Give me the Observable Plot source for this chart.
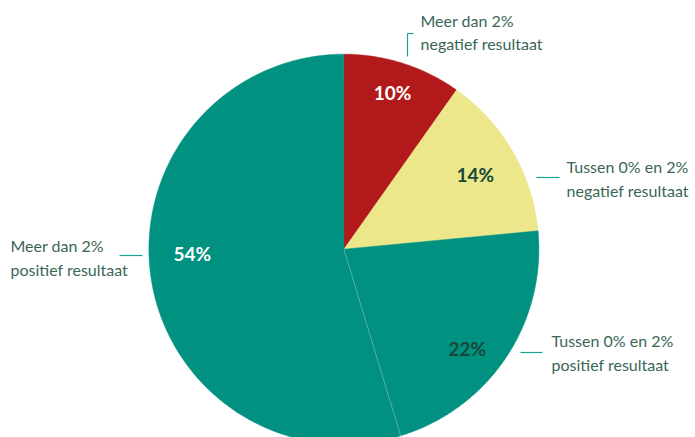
<!DOCTYPE html>
<html>
<head>
<meta charset="utf-8">
<script src="https://cdn.jsdelivr.net/npm/d3@7"></script>
<script src="https://cdn.jsdelivr.net/npm/@observablehq/plot@0.6"></script>
<style>
  html, body { margin: 0; padding: 0; background: #fff; overflow: hidden; }
  #chart svg { overflow: hidden; }
</style>
</head>
<body>
<div id="chart"></div>
<script>
// ---- data ----
const categories = [
  "Meer dan 2%\nnegatief resultaat",
  "Tussen 0% en 2%\nnegatief resultaat",
  "Tussen 0% en 2%\npositief resultaat",
  "Meer dan 2%\npositief resultaat"
];
// slice shares
const values = [9.8, 13.7, 21.8, 54.7];
const valueLabels = ["10%", "14%", "22%", "54%"];
const sliceColors = ["#B2191B", "#ECE78A", "#009180", "#009180"];
const valueLabelColors = ["#ffffff", "#17493A", "#17493A", "#ffffff"];

// ---- layout (pixels) ----
const W = 695, H = 437;
const cx = 343.4, cy = 248.7, R = 195;

// ---- geometry from data ----
const total = d3.sum(values);
const toRad = Math.PI / 180;
let acc = 0;
const slices = values.map((v, i) => {
  const a0 = acc / total * 360;
  acc += v;
  const a1 = acc / total * 360;
  return {i, a0, a1, cat: categories[i], label: valueLabels[i]};
});

// polygon points for each slice (x = sin, y = cos, angle clockwise from top)
const polyPts = [];
for (const s of slices) {
  polyPts.push({slice: s.i, x: 0, y: 0});
  const n = Math.max(2, Math.ceil((s.a1 - s.a0) / 0.5));
  for (let k = 0; k <= n; k++) {
    const a = (s.a0 + (s.a1 - s.a0) * k / n) * toRad;
    polyPts.push({slice: s.i, x: Math.sin(a), y: Math.cos(a)});
  }
  polyPts.push({slice: s.i, x: 0, y: 0});
}

// separator between the two teal slices
const sep = [{x1: 0, y1: 0, x2: Math.sin(slices[3].a0 * toRad), y2: Math.cos(slices[3].a0 * toRad)}];

// value label placement (angle shift in degrees, radius fraction)
const labelTweak = [[-0.3, 0.836], [0.9, 0.772], [5.5, 0.818], [6.4, 0.778]];
const valLabels = slices.map((s, i) => {
  const a = ((s.a0 + s.a1) / 2 + labelTweak[i][0]) * toRad;
  const r = labelTweak[i][1];
  return {x: r * Math.sin(a), y: r * Math.cos(a), text: s.label, color: valueLabelColors[i]};
});

// pixel -> data unit helpers for annotation layout
const ux = px => (px - cx) / R;
const uy = py => (cy - py) / R;

// category annotations (outside) with leader lines
const annPos = [[420, 30.5], [566, 177], [551, 351], [10, 256]];
const annotations = slices.map((s, i) => ({x: ux(annPos[i][0]), y: uy(annPos[i][1]), text: s.cat}));

const leaders = [
  {x1: ux(413), y1: uy(33), x2: ux(407), y2: uy(33)},
  {x1: ux(407), y1: uy(33), x2: ux(407), y2: uy(56)},
  {x1: ux(536), y1: uy(177), x2: ux(559), y2: uy(177)},
  {x1: ux(520), y1: uy(352), x2: ux(542), y2: uy(352)},
  {x1: ux(119), y1: uy(255), x2: ux(142), y2: uy(255)}
];

const chart = Plot.plot({
  width: W,
  height: H,
  margin: 0,
  style: {fontFamily: "Lato, 'Open Sans', sans-serif", background: "#fff", overflow: "hidden"},
  x: {domain: [-1, 1], range: [cx - R, cx + R], axis: null},
  y: {domain: [-1, 1], range: [cy + R, cy - R], axis: null},
  marks: [
    Plot.line(polyPts, {x: "x", y: "y", z: "slice", fill: d => sliceColors[d.slice], stroke: d => sliceColors[d.slice], strokeWidth: 0.5, curve: "linear"}),
    Plot.link(sep, {x1: "x1", y1: "y1", x2: "x2", y2: "y2", stroke: "#ffffff", strokeOpacity: 0.35, strokeWidth: 0.8}),
    Plot.text(valLabels, {x: "x", y: "y", text: "text", fill: "color", fontSize: 19, fontWeight: "bold"}),
    Plot.link(leaders, {x1: "x1", y1: "y1", x2: "x2", y2: "y2", stroke: "#1AA394", strokeWidth: 1.2}),
    Plot.text(annotations, {x: "x", y: "y", text: "text", textAnchor: "start", fill: "#3A6656", fontSize: 16, lineHeight: 1.45})
  ]
});
document.getElementById("chart").appendChild(chart);
</script>
</body>
</html>
